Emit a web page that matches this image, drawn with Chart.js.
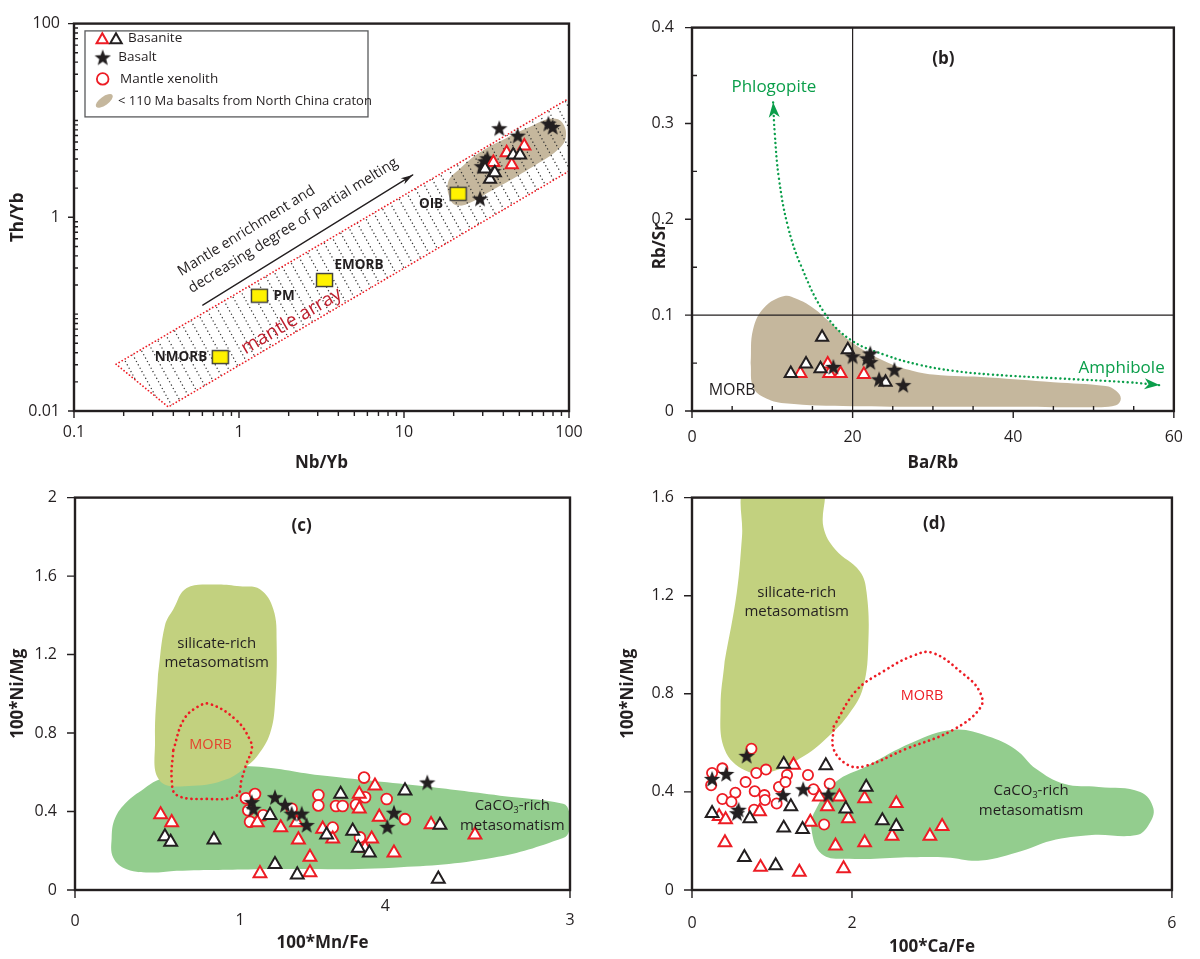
<!DOCTYPE html>
<html><head><meta charset="utf-8">
<script src="https://cdn.jsdelivr.net/npm/chart.js@4.4.1/dist/chart.umd.min.js"></script>
<style>
html,body{margin:0;padding:0;background:#fff;}
body{width:1200px;height:959px;position:relative;overflow:hidden;}
canvas{position:absolute;}
</style></head><body>
<canvas id="cA" width="600" height="480" style="left:0;top:0"></canvas>
<canvas id="cB" width="600" height="480" style="left:600px;top:0"></canvas>
<canvas id="cC" width="600" height="489" style="left:0;top:470px"></canvas>
<canvas id="cD" width="600" height="489" style="left:600px;top:470px"></canvas>
<script>
// ================= DATA =================
// ---- Panel (a): Th/Yb vs Nb/Yb (log-log) ----
const aRefLabels = ['NMORB', 'PM', 'EMORB', 'OIB'];
const aRefNbYb = [0.77, 1.33, 3.3, 21.3];
const aRefThYb = [0.036, 0.155, 0.225, 1.75];
const aBasaniteRedNbYb = [53.6, 41.9, 45.0, 34.8];
const aBasaniteRedThYb = [5.46, 4.64, 3.49, 3.69];
const aBasaniteBlackNbYb = [45.9, 50.5, 31.0, 33.2, 35.5];
const aBasaniteBlackThYb = [4.40, 4.40, 3.16, 2.47, 2.88];
const aBasaltNbYb = [37.8, 48.9, 75.0, 79.6, 32.0, 29.6, 34.8, 28.9, 31.0];
const aBasaltThYb = [8.30, 6.97, 9.27, 8.57, 4.07, 3.37, 3.00, 1.56, 3.78];
const aNccNbYb = [45.8, 33.2, 25.1, 21.8, 19.4, 18.5, 21.8, 28.9, 42.1, 58.0, 76.7, 90.7, 95.5, 84.5, 64.0, 45.8];
const aNccThYb = [2.50, 1.85, 1.41, 1.32, 1.45, 2.30, 3.17, 4.70, 6.63, 8.60, 10.4, 9.60, 6.60, 4.90, 3.55, 2.50];
const aArrayNbYb = [0.18, 100, 100, 0.373, 0.18];
const aArrayThYb = [0.0304, 16.9, 3.0, 0.011, 0.0304];
const aArrowNbYb = [0.603, 11.3];
const aArrowThYb = [0.124, 2.74];
const aXTickLabels = ['0.1', '1', '10', '100'];
const aYTickLabels = ['0.01', '1', '100'];

// ---- Panel (b): Rb/Sr vs Ba/Rb ----
const bBasaniteRedBaRb = [13.5, 16.9, 17.1, 18.5, 21.4];
const bBasaniteRedRbSr = [0.039, 0.049, 0.039, 0.039, 0.038];
const bBasaniteBlackBaRb = [16.2, 19.4, 14.2, 12.3, 16.0, 24.1];
const bBasaniteBlackRbSr = [0.077, 0.064, 0.049, 0.039, 0.044, 0.030];
const bBasaltBaRb = [17.6, 20.0, 22.2, 22.2, 21.8, 25.2, 23.3, 26.3];
const bBasaltRbSr = [0.046, 0.057, 0.060, 0.051, 0.055, 0.043, 0.033, 0.027];
const bMorbBaRb = [7.3, 7.6, 9.0, 11.5, 13, 15, 17, 20, 24, 27, 30, 37, 45, 51.5, 52.8, 53.4, 52.8, 50, 40, 20, 11.5, 9.0, 7.6, 7.3];
const bMorbRbSr = [0.05, 0.085, 0.108, 0.12, 0.117, 0.108, 0.094, 0.071, 0.052, 0.043, 0.038, 0.035, 0.03, 0.026, 0.021, 0.013, 0.006, 0.004, 0.0045, 0.005, 0.008, 0.014, 0.025, 0.05];
const bTrendBaRb = [10.1, 10.3, 10.8, 11.9, 13.6, 16.6, 19.8, 24.2, 28.4, 32.5, 37.3, 45.6, 54.3, 58.2];
const bTrendRbSr = [0.322, 0.29, 0.244, 0.194, 0.151, 0.101, 0.074, 0.058, 0.048, 0.042, 0.038, 0.034, 0.030, 0.027];
const bVLineBaRb = [20, 20], bVLineRbSr = [0, 0.4];
const bHLineBaRb = [0, 60], bHLineRbSr = [0.1, 0.1];
const bXTicks = [0, 5, 10, 15, 20, 25, 30, 35, 40, 45, 50, 55, 60];
const bYTicks = [0, 0.05, 0.1, 0.15, 0.2, 0.25, 0.3, 0.35, 0.4];
const bXTickLabels = ['0', '20', '40', '60'];
const bYTickLabels = ['0', '0.1', '0.2', '0.3', '0.4'];

// ---- Panel (c): 100*Ni/Mg vs 100*Mn/Fe ----
const cBasaniteRedMnFe = [0.519, 0.586, 1.121, 1.105, 1.247, 1.354, 1.424, 1.424, 1.501, 1.343, 1.818, 1.723, 1.723, 1.844, 1.562, 1.798, 1.758, 1.933, 2.158, 2.424];
const cBasaniteRedNiMg = [0.384, 0.344, 0.084, 0.344, 0.318, 0.256, 0.168, 0.089, 0.311, 0.344, 0.531, 0.489, 0.414, 0.372, 0.261, 0.261, 0.214, 0.189, 0.334, 0.281];
const cBasaniteBlackMnFe = [0.545, 0.58, 0.842, 1.182, 1.212, 1.347, 1.525, 1.61, 2.0, 1.683, 1.717, 1.784, 2.212, 2.202];
const cBasaniteBlackNiMg = [0.272, 0.244, 0.256, 0.381, 0.131, 0.078, 0.281, 0.489, 0.506, 0.301, 0.214, 0.189, 0.331, 0.056];
const cBasaltMnFe = [1.071, 1.081, 1.212, 1.273, 1.313, 1.374, 1.404, 2.135, 1.933, 1.893];
const cBasaltNiMg = [0.448, 0.414, 0.473, 0.434, 0.389, 0.389, 0.331, 0.548, 0.394, 0.322];
const cXenolithMnFe = [1.036, 1.091, 1.05, 1.061, 1.141, 1.313, 1.475, 1.475, 1.752, 1.582, 1.622, 1.703, 1.758, 1.889, 2.0, 1.562, 1.727];
const cXenolithNiMg = [0.468, 0.489, 0.406, 0.348, 0.381, 0.414, 0.484, 0.431, 0.573, 0.428, 0.428, 0.434, 0.473, 0.464, 0.361, 0.318, 0.268];
const cCarbMnFe = [1.121, 0.616, 0.475, 0.313, 0.232, 0.222, 0.242, 0.313, 0.414, 0.515, 0.758, 1.061, 1.485, 2.09, 2.576, 2.958, 2.994, 2.994, 2.958, 2.533, 1.929, 1.121];
const cCarbNiMg = [0.106, 0.098, 0.089, 0.106, 0.164, 0.264, 0.364, 0.448, 0.514, 0.564, 0.608, 0.631, 0.585, 0.531, 0.481, 0.44, 0.40, 0.30, 0.265, 0.164, 0.114, 0.106];
const cSilMnFe = [0.503, 0.545, 0.596, 0.677, 0.848, 1.0, 1.121, 1.202, 1.222, 1.212, 1.182, 1.109, 1.041, 0.919, 0.717, 0.515, 0.485, 0.503];
const cSilNiMg = [1.098, 1.348, 1.431, 1.539, 1.557, 1.548, 1.533, 1.431, 1.264, 0.948, 0.798, 0.688, 0.631, 0.564, 0.531, 0.556, 0.764, 1.098];
const cMorbMnFe = [0.596, 0.656, 0.738, 0.818, 0.98, 1.061, 1.071, 1.041, 1.01, 0.98, 0.798, 0.616, 0.586, 0.596];
const cMorbNiMg = [0.714, 0.864, 0.931, 0.948, 0.864, 0.764, 0.714, 0.648, 0.564, 0.481, 0.464, 0.484, 0.564, 0.714];
const cXTickMarks = [0, 3];
const cXLabelValues = [0, 1, 1.88, 3];
const cXLabels = ['0', '1', '4', '3'];
const cYTicks = [0, 0.4, 0.8, 1.2, 1.6, 2];
const cYTickLabels = ['0', '0.4', '0.8', '1.2', '1.6', '2'];

// ---- Panel (d): 100*Ni/Mg vs 100*Ca/Fe ----
const dBasaniteRedCaFe = [1.269, 0.339, 0.42, 0.845, 0.412, 0.857, 1.342, 1.479, 1.794, 1.895, 1.592, 1.693, 1.842, 1.955, 2.158, 2.554, 2.501, 2.158, 2.974, 3.127];
const dBasaniteRedNiMg = [0.509, 0.3, 0.287, 0.32, 0.193, 0.093, 0.073, 0.277, 0.18, 0.087, 0.38, 0.34, 0.38, 0.291, 0.373, 0.353, 0.22, 0.193, 0.22, 0.26];
const dBasaniteBlackCaFe = [1.147, 1.673, 0.251, 0.723, 1.236, 1.147, 1.382, 1.923, 0.655, 1.046, 2.178, 2.38, 2.554];
const dBasaniteBlackNiMg = [0.513, 0.507, 0.313, 0.291, 0.34, 0.253, 0.247, 0.331, 0.133, 0.1, 0.42, 0.283, 0.26];
const dBasaltCaFe = [0.683, 0.251, 0.428, 0.582, 0.562, 1.139, 1.39, 1.705];
const dBasaltNiMg = [0.547, 0.453, 0.473, 0.327, 0.313, 0.387, 0.411, 0.389];
const dXenolithCaFe = [0.743, 0.251, 0.38, 0.239, 0.804, 0.925, 1.188, 0.67, 0.542, 0.38, 0.493, 0.784, 0.905, 0.913, 0.776, 1.058, 1.087, 1.168, 1.45, 1.519, 1.721, 1.652];
const dXenolithNiMg = [0.576, 0.477, 0.496, 0.427, 0.477, 0.491, 0.469, 0.44, 0.397, 0.371, 0.36, 0.403, 0.387, 0.367, 0.327, 0.353, 0.42, 0.44, 0.469, 0.411, 0.433, 0.267];
const dSilCaFe = [0.408, 0.56, 0.625, 0.668, 1.15, 1.621, 1.643, 1.794, 2.097, 2.183, 2.205, 2.14, 1.967, 1.708, 1.405, 0.971, 0.668, 0.408, 0.357, 0.408];
const dSilNiMg = [0.933, 1.213, 1.44, 1.65, 1.66, 1.65, 1.48, 1.387, 1.3, 1.213, 1.013, 0.827, 0.72, 0.627, 0.547, 0.48, 0.487, 0.573, 0.747, 0.933];
const dCarbCaFe = [2.617, 1.967, 1.621, 1.491, 1.535, 1.794, 2.183, 2.747, 3.265, 3.698, 4.045, 4.305, 4.651, 5.084, 5.604, 5.768, 5.712, 5.56, 4.998, 4.478, 4.132, 3.612, 3.179, 2.617];
const dCarbNiMg = [0.133, 0.127, 0.147, 0.253, 0.32, 0.44, 0.505, 0.6, 0.653, 0.627, 0.573, 0.493, 0.433, 0.42, 0.4, 0.333, 0.267, 0.224, 0.224, 0.2, 0.16, 0.12, 0.133, 0.133];
const dMorbCaFe = [1.772, 2.053, 2.4, 2.747, 3.006, 3.395, 3.59, 3.612, 3.265, 2.659, 2.183, 1.967, 1.772, 1.772];
const dMorbNiMg = [0.667, 0.813, 0.893, 0.953, 0.967, 0.88, 0.813, 0.747, 0.653, 0.573, 0.507, 0.507, 0.573, 0.667];
const dXTicks = [0, 2, 6];
const dXTickLabels = ['0', '2', '6'];
const dYTicks = [0, 0.4, 0.8, 1.2, 1.6];
const dYTickLabels = ['0', '0.4', '0.8', '1.2', '1.6'];

// ================= STYLE / HELPERS =================
const INK = '#231f20', RED = '#ed1c24', TAN = '#c5b79d', LIME = '#c2d17f', GREEN = '#93cd8e', AGREEN = '#0a9e4a';
const FONT = "'Open Sans', 'Noto Sans', sans-serif";
Chart.defaults.font.family = FONT;

function makeStar(R, r) {
  const c = document.createElement('canvas'); const s = Math.ceil(2 * R + 2); c.width = c.height = s;
  const g = c.getContext('2d'); g.translate(s / 2, s / 2 + 0.7); g.beginPath();
  for (let i = 0; i < 10; i++) { const rad = i % 2 ? r : R; const a = -Math.PI / 2 + i * Math.PI / 5; g.lineTo(rad * Math.cos(a), rad * Math.sin(a)); }
  g.closePath(); g.fillStyle = INK; g.fill(); return c;
}
function makeBox(w, h) {
  const c = document.createElement('canvas'); c.width = w + 2; c.height = h + 2;
  const g = c.getContext('2d'); g.fillStyle = '#fff200'; g.fillRect(1, 1, w, h);
  g.strokeStyle = '#3b3b3b'; g.lineWidth = 1.4; g.strokeRect(1.5, 1.5, w - 1, h - 1); return c;
}
const STAR = makeStar(8.6, 3.6);
const BOX = makeBox(17, 14);

const pts = (xs, ys) => xs.map((v, i) => ({ x: v, y: ys[i] }));
const lab = (v, list) => { const s = String(parseFloat(Number(v).toPrecision(6))); return list.includes(s) ? s : ''; };
function decadeTicks(lo, hi) {
  const out = [];
  for (let e = Math.round(Math.log10(lo)); e < Math.round(Math.log10(hi)); e++)
    for (let k = 1; k <= 9; k++) out.push(parseFloat((k * Math.pow(10, e)).toPrecision(6)));
  out.push(hi); return out;
}

function markers(xs, ys, kind, size, order) {
  const d = { data: pts(xs, ys), showLine: false, order, pointHitRadius: 0 };
  if (kind === 'star') Object.assign(d, { pointStyle: STAR, pointRadius: 8 });
  else if (kind === 'box') Object.assign(d, { pointStyle: BOX, pointRadius: 9 });
  else if (kind === 'circle') Object.assign(d, { pointStyle: 'circle', pointRadius: size, pointBorderColor: RED, pointBackgroundColor: '#fff', pointBorderWidth: 1.8 });
  else Object.assign(d, { pointStyle: 'triangle', pointRadius: size, pointBorderColor: kind === 'redTri' ? RED : INK, pointBackgroundColor: '#fff', pointBorderWidth: 2 });
  return d;
}
function shape(xs, ys, o) {
  return { data: pts(xs, ys), showLine: true, pointRadius: 0, pointHitRadius: 0,
    tension: o.tension ?? 0.4, capBezierPoints: false,
    fill: o.fill ? 'shape' : false, backgroundColor: o.fill || 'transparent',
    borderColor: o.stroke || 'rgba(0,0,0,0)', borderWidth: o.width || 1, borderDash: o.dash || [],
    borderCapStyle: 'round', borderJoinStyle: 'round', order: o.order };
}
function axis(o) {
  return {
    type: o.type || 'linear', position: o.pos, min: o.min, max: o.max,
    afterFit: s => { if (o.pos === 'left') s.width = o.size; else s.height = o.size; },
    afterBuildTicks: s => { s.ticks = o.ticks.map(v => ({ value: v })); },
    ticks: { display: !!o.labels, autoSkip: false, maxRotation: 0, minRotation: 0, padding: o.pad || 0, color: INK,
      font: { family: FONT, size: 16 }, callback: v => o.labels ? lab(v, o.labels) : '' },
    grid: { display: false, drawTicks: false }, border: { display: false },
    title: { display: o.title !== null, text: o.title || '', color: INK, font: { family: FONT, size: 17, weight: 'bold' }, padding: o.tpad }
  };
}
function makeChart(id, datasets, scales, padding, plugin) {
  return new Chart(document.getElementById(id), {
    type: 'line', data: { datasets },
    options: { responsive: false, animation: false, events: [], layout: { padding },
      plugins: { legend: { display: false }, tooltip: { enabled: false } }, scales },
    plugins: [plugin]
  });
}
const P = (chart, x, y) => [chart.scales.x.getPixelForValue(x), chart.scales.y.getPixelForValue(y)];
function text(ctx, s, x, y, o = {}) {
  ctx.save(); ctx.translate(x, y); if (o.rot) ctx.rotate(o.rot);
  ctx.font = `${o.weight || 'normal'} ${o.size || 15}px ${FONT}`; ctx.fillStyle = o.color || INK;
  ctx.textAlign = o.align || 'center'; ctx.textBaseline = 'middle'; ctx.fillText(s, 0, 0); ctx.restore();
}
function caco3(ctx, x, y, size) {
  ctx.save(); ctx.fillStyle = INK; ctx.textAlign = 'left'; ctx.textBaseline = 'middle';
  const big = `${size}px ${FONT}`, small = `${Math.round(size * 0.62)}px ${FONT}`;
  ctx.font = big; const w1 = ctx.measureText('CaCO').width, w3 = ctx.measureText('-rich').width;
  ctx.font = small; const w2 = ctx.measureText('3').width;
  let x0 = x - (w1 + w2 + w3) / 2;
  ctx.font = big; ctx.fillText('CaCO', x0, y); x0 += w1;
  ctx.font = small; ctx.fillText('3', x0, y + size * 0.3); x0 += w2;
  ctx.font = big; ctx.fillText('-rich', x0, y); ctx.restore();
}
function head(ctx, x, y, ang, len, wid, color) {
  ctx.save(); ctx.translate(x, y); ctx.rotate(ang); ctx.beginPath();
  ctx.moveTo(0, 0); ctx.lineTo(-len, wid / 2); ctx.lineTo(-len * 0.72, 0); ctx.lineTo(-len, -wid / 2); ctx.closePath();
  ctx.fillStyle = color; ctx.fill(); ctx.restore();
}
function frame(chart) {
  const { ctx, chartArea: ca } = chart; ctx.save(); ctx.strokeStyle = INK; ctx.lineWidth = 2.4;
  ctx.strokeRect(ca.left, ca.top, ca.width, ca.height); ctx.restore();
}
function tickMarks(chart, id, values, labels, o) {
  const s = chart.scales[id], ctx = chart.ctx, ca = chart.chartArea;
  ctx.save(); ctx.strokeStyle = INK; ctx.lineWidth = 1.4; ctx.beginPath();
  values.forEach(v => {
    const p = s.getPixelForValue(v);
    const major = labels ? lab(v, labels) !== '' : true;
    const len = major ? o.major : o.minor;
    const dir = (major || !o.minorIn) ? 1 : -1;
    if (s.isHorizontal()) { ctx.moveTo(p, ca.bottom); ctx.lineTo(p, ca.bottom + dir * len); }
    else { ctx.moveTo(ca.left, p); ctx.lineTo(ca.left - dir * len, p); }
  });
  ctx.stroke(); ctx.restore();
}
function tri(ctx, x, y, r, color) {
  ctx.save(); ctx.beginPath();
  for (let i = 0; i < 3; i++) { const a = -Math.PI / 2 + i * 2 * Math.PI / 3; ctx.lineTo(x + r * Math.cos(a), y + r * Math.sin(a)); }
  ctx.closePath(); ctx.fillStyle = '#fff'; ctx.fill(); ctx.lineWidth = 2; ctx.strokeStyle = color; ctx.stroke(); ctx.restore();
}

// ================= PANEL (a) =================
const aXTicks = decadeTicks(0.1, 100), aYTicks = decadeTicks(0.01, 100);
const pluginA = {
  id: 'pa',
  afterDatasetDraw(chart, args) {
    if (args.index !== 0) return; // hatch the mantle array right after the NCC field
    const ctx = chart.ctx, ca = chart.chartArea;
    ctx.save();
    ctx.beginPath(); ctx.rect(ca.left, ca.top, ca.width, ca.height); ctx.clip();
    ctx.beginPath();
    aArrayNbYb.forEach((v, i) => { const [x, y] = P(chart, v, aArrayThYb[i]); i ? ctx.lineTo(x, y) : ctx.moveTo(x, y); });
    ctx.closePath(); ctx.clip();
    ctx.strokeStyle = '#333'; ctx.lineWidth = 1.25; ctx.setLineDash([1.25, 2.6]);
    ctx.beginPath();
    const h = ca.height, slant = 0.55;
    for (let k = -h; k < ca.width + h; k += 11) { ctx.moveTo(ca.left + k, ca.top); ctx.lineTo(ca.left + k + slant * h, ca.bottom); }
    ctx.stroke(); ctx.restore();
  },
  afterDatasetsDraw(chart) {
    const ctx = chart.ctx, ca = chart.chartArea;
    const [sx, sy] = P(chart, aArrowNbYb[0], aArrowThYb[0]);
    const [ex, ey] = P(chart, aArrowNbYb[1], aArrowThYb[1]);
    const ang = Math.atan2(ey - sy, ex - sx);
    head(ctx, ex, ey, ang, 12, 7, INK);
    const ux = Math.cos(ang), uy = Math.sin(ang), nx = uy, ny = -ux;
    text(ctx, 'Mantle enrichment and', sx - 3 * ux + 40 * nx, sy - 3 * uy + 40 * ny, { size: 14.5, align: 'left', rot: ang });
    text(ctx, 'decreasing degree of partial melting', sx - 3 * ux + 20 * nx, sy - 3 * uy + 20 * ny, { size: 14.5, align: 'left', rot: ang });
    const [b0x, b0y] = P(chart, aArrayNbYb[0], aArrayThYb[0]);
    const [b1x, b1y] = P(chart, aArrayNbYb[1], aArrayThYb[1]);
    const bang = Math.atan2(b1y - b0y, b1x - b0x);
    const [mx, my] = P(chart, 2.08, 0.0845);
    text(ctx, 'mantle array', mx, my, { size: 19, color: '#be1e2d', rot: bang });
    const offs = [[-13, 0, 'right'], [14, 0, 'left'], [10, -15, 'left'], [-15, 10, 'right']];
    aRefLabels.forEach((s, i) => {
      const [x, y] = P(chart, aRefNbYb[i], aRefThYb[i]);
      text(ctx, s, x + offs[i][0], y + offs[i][1], { size: 13.5, weight: 'bold', align: offs[i][2] });
    });
    const [lx, ly] = P(chart, 3.56, 57.5);
    text(ctx, '(a)', lx, ly, { size: 17, weight: 'bold' });
    // legend
    const L = ca.left + 11, T = ca.top + 7.3, W = 283, H = 86;
    ctx.save(); ctx.fillStyle = '#fff'; ctx.fillRect(L, T, W, H);
    ctx.strokeStyle = '#58595b'; ctx.lineWidth = 1.3; ctx.strokeRect(L, T, W, H); ctx.restore();
    const rows = [T + 7.5, T + 26.5, T + 48, T + 70];
    tri(ctx, L + 17.3, rows[0] + 1.5, 6.6, RED); tri(ctx, L + 31, rows[0] + 1.5, 6.6, INK);
    ctx.drawImage(STAR, L + 17.7 - STAR.width / 2, rows[1] - STAR.height / 2);
    ctx.save(); ctx.beginPath(); ctx.arc(L + 17.7, rows[2], 5.8, 0, Math.PI * 2); ctx.fillStyle = '#fff'; ctx.fill();
    ctx.lineWidth = 1.8; ctx.strokeStyle = RED; ctx.stroke(); ctx.restore();
    ctx.save(); ctx.beginPath(); ctx.ellipse(L + 19.3, rows[3], 10, 4.3, -0.62, 0, Math.PI * 2); ctx.fillStyle = TAN; ctx.fill(); ctx.restore();
    text(ctx, 'Basanite', L + 43, rows[0], { size: 13.5, align: 'left' });
    text(ctx, 'Basalt', L + 33.3, rows[1], { size: 13.5, align: 'left' });
    text(ctx, 'Mantle xenolith', L + 35, rows[2], { size: 13.5, align: 'left' });
    text(ctx, '< 110 Ma basalts from North China craton', L + 33, rows[3], { size: 13, align: 'left' });
  },
  afterDraw(chart) {
    frame(chart);
    tickMarks(chart, 'x', aXTicks, aXTickLabels, { major: 7, minor: 5, minorIn: false });
    tickMarks(chart, 'y', aYTicks, aYTickLabels, { major: 6, minor: 4, minorIn: true });
  }
};
makeChart('cA', [
  shape(aNccNbYb, aNccThYb, { fill: TAN, order: 30 }),
  shape(aArrayNbYb, aArrayThYb, { stroke: RED, width: 1.7, dash: [0.1, 3.4], tension: 0, order: 25 }),
  shape(aArrowNbYb, aArrowThYb, { stroke: INK, width: 1.3, tension: 0, order: 20 }),
  markers(aRefNbYb, aRefThYb, 'box', 9, 6),
  markers(aBasaltNbYb, aBasaltThYb, 'star', 8, 5),
  markers(aBasaniteRedNbYb, aBasaniteRedThYb, 'redTri', 7, 4),
  markers(aBasaniteBlackNbYb, aBasaniteBlackThYb, 'blackTri', 7, 3)
], {
  x: axis({ type: 'logarithmic', pos: 'bottom', min: 0.1, max: 100, size: 69, ticks: aXTicks, labels: aXTickLabels, pad: 12, title: 'Nb/Yb', tpad: { top: 0, bottom: 6.8 } }),
  y: axis({ type: 'logarithmic', pos: 'left', min: 0.01, max: 100, size: 74, ticks: aYTicks, labels: aYTickLabels, pad: 14, title: 'Th/Yb', tpad: { top: 8, bottom: 0 } })
}, { top: 11, right: 31, left: 0, bottom: 0 }, pluginA);

// ================= PANEL (b) =================
const pluginB = {
  id: 'pb',
  afterDatasetsDraw(chart) {
    const ctx = chart.ctx, n = bTrendBaRb.length;
    const [x0, y0] = P(chart, bTrendBaRb[0], bTrendRbSr[0]);
    const [x1, y1] = P(chart, bTrendBaRb[2], bTrendRbSr[2]);
    head(ctx, x0, y0, Math.atan2(y0 - y1, x0 - x1), 15, 11, AGREEN);
    const [xa, ya] = P(chart, bTrendBaRb[n - 2], bTrendRbSr[n - 2]);
    const [xb, yb] = P(chart, bTrendBaRb[n - 1], bTrendRbSr[n - 1]);
    head(ctx, xb, yb, Math.atan2(yb - ya, xb - xa), 15, 11, AGREEN);
    let [tx, ty] = P(chart, 31.3, 0.367); text(ctx, '(b)', tx, ty, { size: 17, weight: 'bold' });
    [tx, ty] = P(chart, 10.2, 0.338); text(ctx, 'Phlogopite', tx, ty, { size: 17, color: AGREEN });
    [tx, ty] = P(chart, 53.5, 0.045); text(ctx, 'Amphibole', tx, ty, { size: 17, color: AGREEN });
    [tx, ty] = P(chart, 5.0, 0.021); text(ctx, 'MORB', tx, ty, { size: 16 });
  },
  afterDraw(chart) {
    frame(chart);
    tickMarks(chart, 'x', bXTicks, bXTickLabels, { major: 7, minor: 5, minorIn: true });
    tickMarks(chart, 'y', bYTicks, bYTickLabels, { major: 7, minor: 5, minorIn: true });
    // y-axis title sits just below the 0.2 tick label in the original
    const ca = chart.chartArea, yp = chart.scales.y.getPixelForValue(0.172);
    text(chart.ctx, 'Rb/Sr', ca.left - 32, yp, { size: 17, weight: 'bold', rot: -Math.PI / 2 });
  }
};
makeChart('cB', [
  shape(bMorbBaRb, bMorbRbSr, { fill: TAN, order: 30 }),
  shape(bVLineBaRb, bVLineRbSr, { stroke: INK, width: 1.2, tension: 0, order: 22 }),
  shape(bHLineBaRb, bHLineRbSr, { stroke: INK, width: 1.2, tension: 0, order: 22 }),
  shape(bTrendBaRb, bTrendRbSr, { stroke: AGREEN, width: 2.4, dash: [0.1, 4.4], tension: 0.4, order: 20 }),
  markers(bBasaniteRedBaRb, bBasaniteRedRbSr, 'redTri', 7, 5),
  markers(bBasaniteBlackBaRb, bBasaniteBlackRbSr, 'blackTri', 7, 4),
  markers(bBasaltBaRb, bBasaltRbSr, 'star', 8, 3)
], {
  x: axis({ pos: 'bottom', min: 0, max: 60, size: 69, ticks: bXTicks, labels: bXTickLabels, pad: 17, title: 'Ba/Rb', tpad: { top: 0, bottom: 6.8 } }),
  y: axis({ pos: 'left', min: 0, max: 0.4, size: 92, ticks: bYTicks, labels: bYTickLabels, pad: 18, title: null, tpad: 0 })
}, { top: 11, right: 13, left: 0, bottom: 0 }, pluginB);

// ================= PANEL (c) =================
const pluginC = {
  id: 'pc',
  afterDatasetsDraw(chart) {
    const ctx = chart.ctx;
    let [tx, ty] = P(chart, 1.374, 1.856); text(ctx, '(c)', tx, ty, { size: 17, weight: 'bold' });
    [tx, ty] = P(chart, 0.859, 1.256); text(ctx, 'silicate-rich', tx, ty, { size: 15 });
    [tx, ty] = P(chart, 0.859, 1.156); text(ctx, 'metasomatism', tx, ty, { size: 15 });
    [tx, ty] = P(chart, 0.822, 0.739); text(ctx, 'MORB', tx, ty, { size: 14.5, color: '#e4432d' });
    [tx, ty] = P(chart, 2.65, 0.431); caco3(ctx, tx, ty, 15);
    [tx, ty] = P(chart, 2.65, 0.3275); text(ctx, 'metasomatism', tx, ty, { size: 15 });
  },
  afterDraw(chart) {
    frame(chart);
    tickMarks(chart, 'x', cXTickMarks, null, { major: 8, minor: 8 });
    tickMarks(chart, 'y', cYTicks, null, { major: 8, minor: 8 });
    const xs = chart.scales.x, ca = chart.chartArea, dy = [31.7, 30, 16.7, 30];
    cXLabelValues.forEach((v, i) => text(chart.ctx, cXLabels[i], xs.getPixelForValue(v), ca.bottom + dy[i], { size: 16 }));
  }
};
makeChart('cC', [
  shape(cCarbMnFe, cCarbNiMg, { fill: GREEN, order: 32 }),
  shape(cSilMnFe, cSilNiMg, { fill: LIME, order: 31 }),
  shape(cMorbMnFe, cMorbNiMg, { stroke: RED, width: 2.7, dash: [0.1, 5], order: 25 }),
  markers(cXenolithMnFe, cXenolithNiMg, 'circle', 5.4, 6),
  markers(cBasaniteRedMnFe, cBasaniteRedNiMg, 'redTri', 7.4, 5),
  markers(cBasaniteBlackMnFe, cBasaniteBlackNiMg, 'blackTri', 7.4, 4),
  markers(cBasaltMnFe, cBasaltNiMg, 'star', 8, 3)
], {
  x: axis({ pos: 'bottom', min: 0, max: 3, size: 69, ticks: cXTickMarks, labels: null, title: '100*Mn/Fe', tpad: { top: 0, bottom: 5.3 } }),
  y: axis({ pos: 'left', min: 0, max: 2, size: 75, ticks: cYTicks, labels: cYTickLabels, pad: 18, title: '100*Ni/Mg', tpad: { top: 8, bottom: 0 } })
}, { top: 20, right: 30, left: 0, bottom: 0 }, pluginC);

// ================= PANEL (d) =================
const pluginD = {
  id: 'pd',
  afterDatasetsDraw(chart) {
    const ctx = chart.ctx;
    let [tx, ty] = P(chart, 3.028, 1.493); text(ctx, '(d)', tx, ty, { size: 17, weight: 'bold' });
    [tx, ty] = P(chart, 1.309, 1.213); text(ctx, 'silicate-rich', tx, ty, { size: 15 });
    [tx, ty] = P(chart, 1.309, 1.133); text(ctx, 'metasomatism', tx, ty, { size: 15 });
    [tx, ty] = P(chart, 2.876, 0.793); text(ctx, 'MORB', tx, ty, { size: 14.5, color: RED });
    [tx, ty] = P(chart, 4.24, 0.403); caco3(ctx, tx, ty, 15);
    [tx, ty] = P(chart, 4.24, 0.323); text(ctx, 'metasomatism', tx, ty, { size: 15 });
  },
  afterDraw(chart) {
    frame(chart);
    tickMarks(chart, 'x', dXTicks, null, { major: 8, minor: 8 });
    tickMarks(chart, 'y', dYTicks, null, { major: 8, minor: 8 });
  }
};
makeChart('cD', [
  shape(dCarbCaFe, dCarbNiMg, { fill: GREEN, order: 32 }),
  shape(dSilCaFe, dSilNiMg, { fill: LIME, order: 31 }),
  shape(dMorbCaFe, dMorbNiMg, { stroke: RED, width: 2.7, dash: [0.1, 5], order: 25 }),
  markers(dXenolithCaFe, dXenolithNiMg, 'circle', 5.1, 6),
  markers(dBasaniteRedCaFe, dBasaniteRedNiMg, 'redTri', 7.3, 5),
  markers(dBasaniteBlackCaFe, dBasaniteBlackNiMg, 'blackTri', 7.3, 4),
  markers(dBasaltCaFe, dBasaltNiMg, 'star', 8, 3)
], {
  x: axis({ pos: 'bottom', min: 0, max: 6, size: 69, ticks: dXTicks, labels: dXTickLabels, pad: 23.5, title: '100*Ca/Fe', tpad: { top: 0, bottom: 1.2 } }),
  y: axis({ pos: 'left', min: 0, max: 1.6, size: 92, ticks: dYTicks, labels: dYTickLabels, pad: 18, title: '100*Ni/Mg', tpad: { top: 18, bottom: 0 } })
}, { top: 20, right: 13, left: 0, bottom: 0 }, pluginD);
</script>
</body></html>
